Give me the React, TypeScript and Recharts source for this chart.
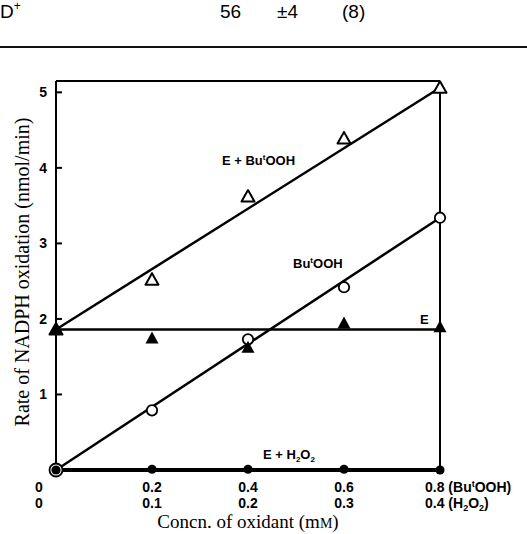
import { ComposedChart, XAxis, YAxis, Scatter } from 'recharts'

// x values (mM Bu'OOH); H2O2 scale is half of it
const conc = [0, 0.2, 0.4, 0.6, 0.8]
const butoohTickLabels = ['0', '0.2', '0.4', '0.6', '0.8']
const h2o2TickLabels = ['0', '0.1', '0.2', '0.3', '0.4']
const yTicks = [1, 2, 3, 4, 5]

// measured rates (nmol/min)
const eButooh = [1.86, 2.52, 3.62, 4.39, 5.06]
const butooh = [0, 0.79, 1.73, 2.42, 3.34]
const eOnly = [1.86, 1.74, 1.62, 1.94, 1.89]
const eH2o2 = [0, 0.01, 0.01, 0.01, 0]

// fitted lines, end points at 0 and 0.8
const fitEButooh = [1.86, 5.06]
const fitButooh = [0, 3.34]
const fitE = [1.86, 1.86]
const fitEH2o2 = [0, 0]

const W = 527
const H = 534
const sans = '"Liberation Sans", Arial, sans-serif'
const serif = '"Liberation Serif", "Times New Roman", serif'

const pts = (ys: number[]) => ys.map((y, i) => ({ x: conc[i], y }))
const fit = (ys: number[]) => [
  { x: conc[0], y: ys[0] },
  { x: conc[conc.length - 1], y: ys[1] },
]

const OpenTri = (p: any) => (
  <path
    d={`M${p.cx},${p.cy - 6.5} L${p.cx + 6.5},${p.cy + 5} L${p.cx - 6.5},${p.cy + 5} Z`}
    fill="#fff"
    stroke="#000"
    strokeWidth={2}
    strokeLinejoin="round"
  />
)
const FilledTri = (p: any) => (
  <path
    d={`M${p.cx},${p.cy - 7} L${p.cx + 6.5},${p.cy + 5} L${p.cx - 6.5},${p.cy + 5} Z`}
    fill="#000"
  />
)
// the origin point sits over a filled circle, so it is drawn as a wider ring
const OpenCircle = (p: any) => (
  <circle
    cx={p.cx}
    cy={p.cy}
    r={p.payload && p.payload.x === 0 ? 6.5 : 5.2}
    fill="#fff"
    stroke="#000"
    strokeWidth={1.8}
  />
)
const FilledCircle = (p: any) => <circle cx={p.cx} cy={p.cy} r={4.6} fill="#000" />
const NoDot = () => <g />

const BottomTick = (p: any) => {
  const i = conc.indexOf(p.payload.value)
  if (i < 0) return <g />
  const last = i === conc.length - 1
  const tx = i === 0 ? p.x - 17 : last ? p.x - 15 : p.x
  const anchor = last ? 'start' : 'middle'
  return (
    <g fontFamily={sans} fontSize={14} fontWeight="bold" fill="#000">
      <text x={tx} y={p.y + 22} textAnchor={anchor}>
        {butoohTickLabels[i]}
        {last && (
          <>
            <tspan> (Bu</tspan>
            <tspan fontSize={9} dy={-5}>t</tspan>
            <tspan dy={5}>OOH)</tspan>
          </>
        )}
      </text>
      <text x={tx} y={p.y + 38} textAnchor={anchor}>
        {h2o2TickLabels[i]}
        {last && (
          <>
            <tspan> (H</tspan>
            <tspan fontSize={9} dy={3}>2</tspan>
            <tspan dy={-3}>O</tspan>
            <tspan fontSize={9} dy={3}>2</tspan>
            <tspan dy={-3}>)</tspan>
          </>
        )}
      </text>
    </g>
  )
}

const LeftTick = (p: any) => (
  <g>
    <line x1={p.x} x2={p.x + 6} y1={p.y} y2={p.y} stroke="#000" strokeWidth={2} />
    <text x={p.x - 9} y={p.y + 5} textAnchor="end" fontFamily={sans} fontSize={14} fontWeight="bold">
      {p.payload.value}
    </text>
  </g>
)
const RightTick = (p: any) => (
  <line x1={p.x} x2={p.x - 6} y1={p.y} y2={p.y} stroke="#000" strokeWidth={2} />
)
const TopTick = (p: any) => (
  <line x1={p.x} x2={p.x} y1={p.y} y2={p.y + 6} stroke="#000" strokeWidth={2} />
)

const axisLine = { stroke: '#000', strokeWidth: 2 }
const lineStyle = { stroke: '#000', strokeWidth: 2.5 }

export default function App() {
  return (
    <div style={{ position: 'relative', width: W, height: H, background: '#fff' }}>
      <style>{'body{margin:0}'}</style>
      <ComposedChart
        width={W}
        height={H}
        margin={{ top: 80, right: 86, bottom: 63, left: 55 }}
      >
        <XAxis
          dataKey="x"
          type="number"
          domain={[0, 0.8]}
          ticks={conc}
          height={1}
          tickSize={0}
          tickMargin={0}
          tickLine={false}
          axisLine={axisLine}
          tick={<BottomTick />}
          interval={0}
        />
        <XAxis
          xAxisId="top"
          orientation="top"
          type="number"
          domain={[0, 0.8]}
          ticks={[0.2, 0.4, 0.6]}
          height={1}
          tickSize={0}
          tickMargin={0}
          tickLine={false}
          axisLine={axisLine}
          tick={<TopTick />}
          interval={0}
        />
        <YAxis
          dataKey="y"
          type="number"
          domain={[0, 5.15]}
          ticks={yTicks}
          width={1}
          tickSize={0}
          tickMargin={0}
          tickLine={false}
          axisLine={axisLine}
          tick={<LeftTick />}
          interval={0}
        />
        <YAxis
          yAxisId="right"
          orientation="right"
          type="number"
          domain={[0, 5.15]}
          ticks={[1, 2, 3, 4]}
          width={1}
          tickSize={0}
          tickMargin={0}
          tickLine={false}
          axisLine={axisLine}
          tick={<RightTick />}
          interval={0}
        />

        <Scatter data={fit(fitEButooh)} line={lineStyle} shape={NoDot} isAnimationActive={false} />
        <Scatter data={fit(fitButooh)} line={lineStyle} shape={NoDot} isAnimationActive={false} />
        <Scatter data={fit(fitE)} line={lineStyle} shape={NoDot} isAnimationActive={false} />
        <Scatter
          data={fit(fitEH2o2)}
          line={{ stroke: '#000', strokeWidth: 4 }}
          shape={NoDot}
          isAnimationActive={false}
        />

        <Scatter name="E + Bu'OOH" data={pts(eButooh)} shape={OpenTri} isAnimationActive={false} />
        <Scatter name="Bu'OOH" data={pts(butooh)} shape={OpenCircle} isAnimationActive={false} />
        <Scatter name="E" data={pts(eOnly)} shape={FilledTri} isAnimationActive={false} />
        <Scatter name="E + H2O2" data={pts(eH2o2)} shape={FilledCircle} isAnimationActive={false} />
      </ComposedChart>

      <svg
        width={W}
        height={H}
        style={{ position: 'absolute', left: 0, top: 0, pointerEvents: 'none' }}
      >
        {/* table remnant above the figure */}
        <g fontFamily={sans} fontSize={19} fill="#000">
          <text x={0} y={18}>
            D<tspan fontSize={12} dy={-8}>+</tspan>
          </text>
          <text x={220} y={18}>56</text>
          <text x={277} y={18}>±4</text>
          <text x={342} y={18}>(8)</text>
        </g>
        <line x1={0} x2={W} y1={47} y2={47} stroke="#111" strokeWidth={2} />

        {/* series labels */}
        <g fontFamily={sans} fontSize={13} fontWeight="bold" fill="#000">
          <text x={222} y={165}>
            E + Bu<tspan fontSize={8} dy={-5}>t</tspan>
            <tspan dy={5}>OOH</tspan>
          </text>
          <text x={293} y={268}>
            Bu<tspan fontSize={8} dy={-5}>t</tspan>
            <tspan dy={5}>OOH</tspan>
          </text>
          <text x={263} y={459}>
            E + H<tspan fontSize={8} dy={3}>2</tspan>
            <tspan dy={-3}>O</tspan>
            <tspan fontSize={8} dy={3}>2</tspan>
          </text>
          <text x={420} y={324}>E</text>
        </g>

        {/* axis titles */}
        <text x={248} y={528} textAnchor="middle" fontFamily={serif} fontSize={19}>
          Concn. of oxidant (m<tspan fontSize={14}>M</tspan>)
        </text>
        <text
          x={29}
          y={272}
          transform="rotate(-90 29 272)"
          textAnchor="middle"
          fontFamily={serif}
          fontSize={20}
        >
          Rate of NADPH oxidation (nmol/min)
        </text>
      </svg>
    </div>
  )
}
